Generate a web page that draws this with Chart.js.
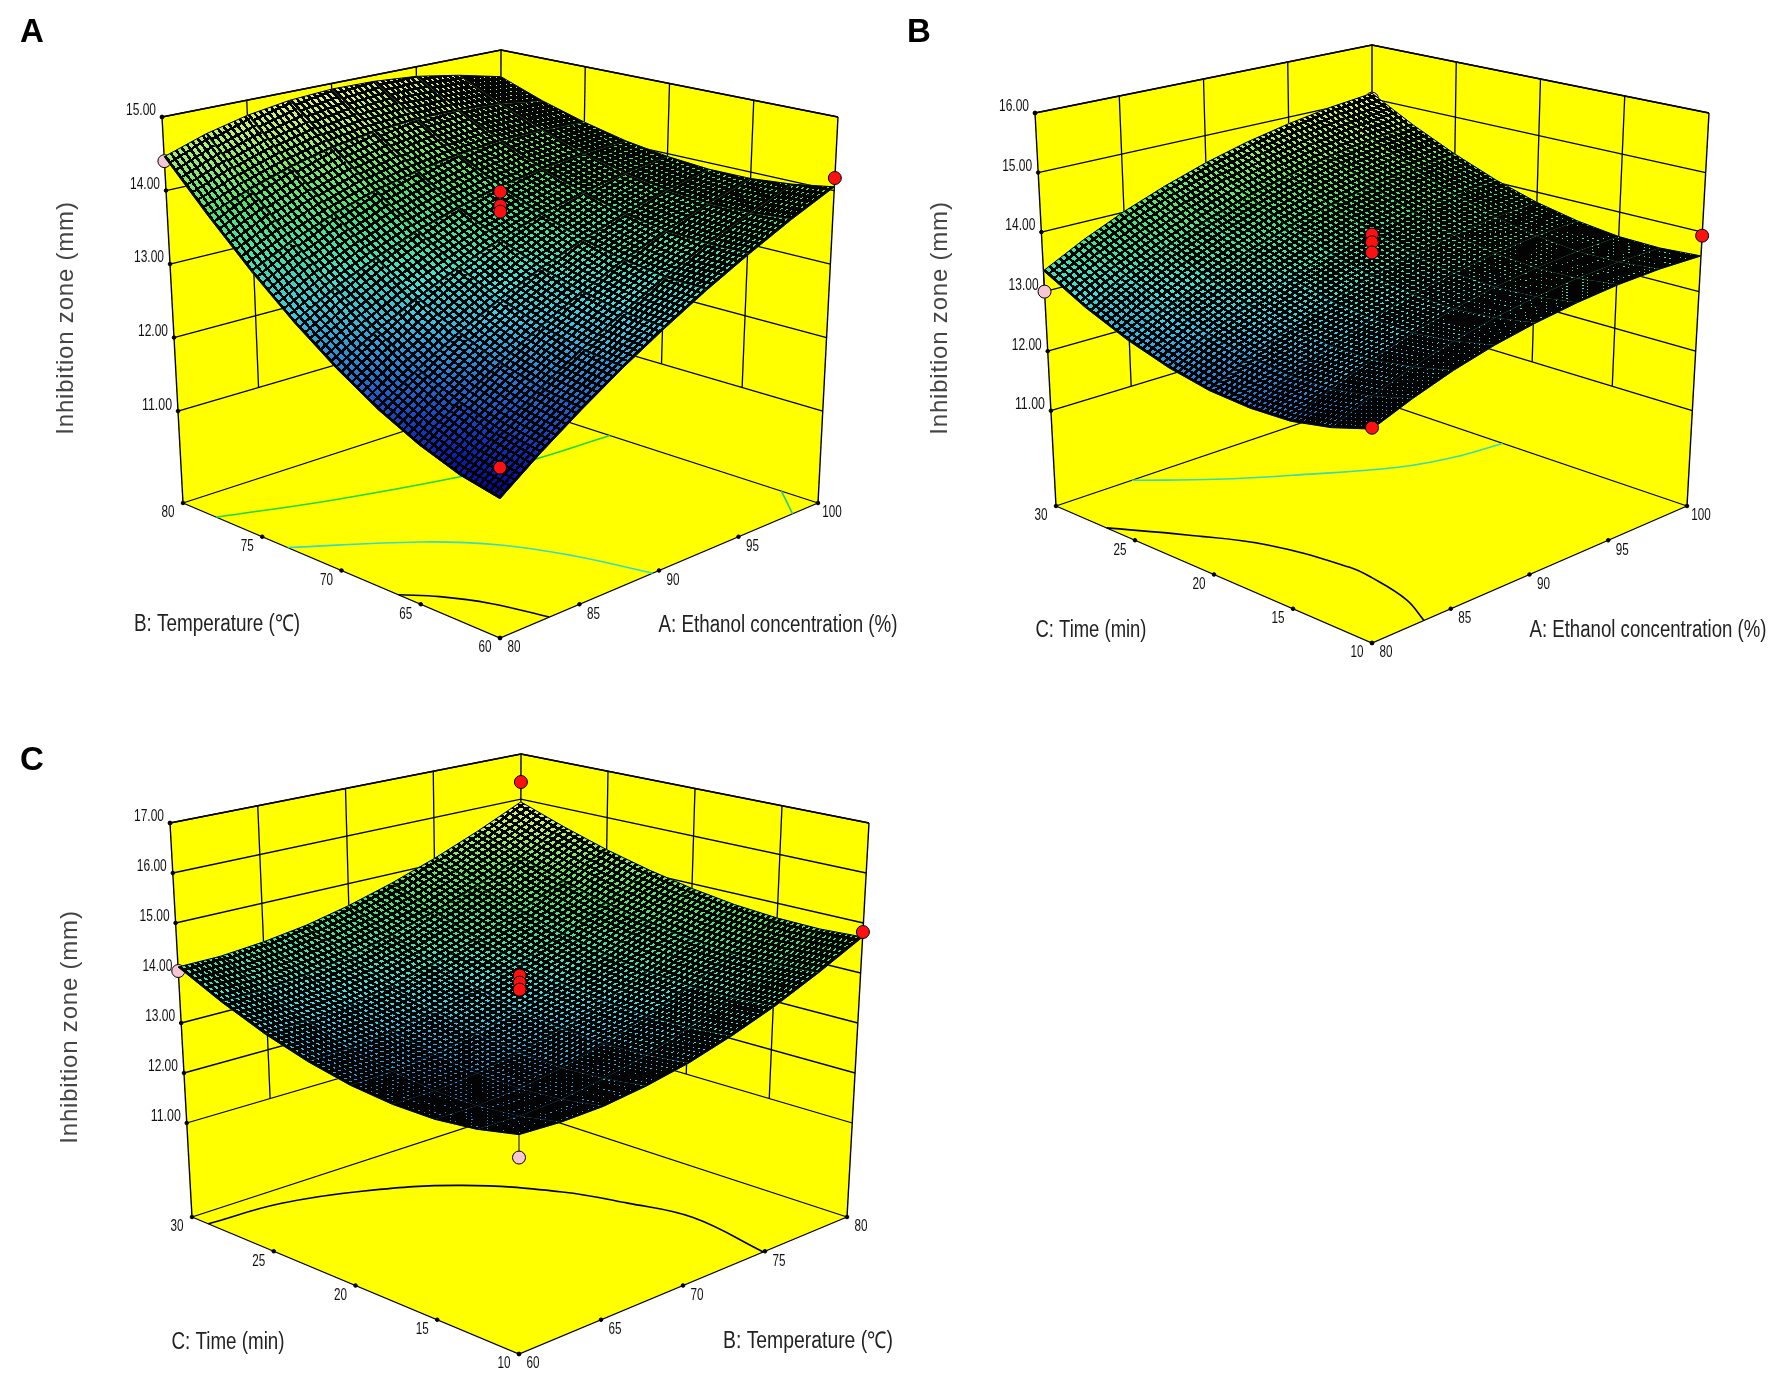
<!DOCTYPE html>
<html lang="en">
<head>
  <meta charset="UTF-8">
  <title>Inhibition zone response surfaces</title>
  <script src="https://cdn.jsdelivr.net/npm/chart.js"></script>
  <style>
    body { margin: 0; background: #fff; width: 1780px; height: 1383px; position: relative; overflow: hidden; }
    canvas { position: absolute; }
    .tag { position: absolute; font: bold 33px "Liberation Sans", sans-serif; color: #000; line-height: 1; }
  </style>
</head>
<body>
  <canvas id="chartA" width="900" height="700" style="left:0;top:0"></canvas>
  <canvas id="chartB" width="880" height="700" style="left:900px;top:0"></canvas>
  <canvas id="chartC" width="900" height="663" style="left:0;top:720px"></canvas>
  <div class="tag" style="left:20px;top:14px">A</div>
  <div class="tag" style="left:907px;top:14px">B</div>
  <div class="tag" style="left:20px;top:742px">C</div>

  <script>
    // axis ticks
    var ethanolTicks = [80, 85, 90, 95, 100];
    var tempTicks = [60, 65, 70, 75, 80];
    var timeTicks = [10, 15, 20, 25, 30];
    var zoneTicksA = [11, 12, 13, 14, 15];
    var zoneTicksB = [11, 12, 13, 14, 15, 16];
    var zoneTicksC = [11, 12, 13, 14, 15, 16, 17];

    // surface readings, inhibition zone (mm). one row per step of the axis
    // running to the left, one column per step of the axis running to the right
    var zoneA = [
      [11.45, 11.83, 12.19, 12.54, 12.87, 13.19, 13.49, 13.78, 14.05],
      [11.56, 11.93, 12.28, 12.60, 12.91, 13.20, 13.48, 13.73, 13.96],
      [11.75, 12.10, 12.43, 12.74, 13.02, 13.28, 13.51, 13.72, 13.91],
      [12.01, 12.34, 12.65, 12.93, 13.18, 13.40, 13.60, 13.77, 13.91],
      [12.35, 12.66, 12.94, 13.19, 13.41, 13.60, 13.75, 13.87, 13.96],
      [12.76, 13.05, 13.30, 13.52, 13.69, 13.84, 13.94, 14.01, 14.05],
      [13.25, 13.51, 13.73, 13.91, 14.04, 14.14, 14.20, 14.21, 14.19],
      [13.82, 14.04, 14.22, 14.36, 14.45, 14.50, 14.50, 14.46, 14.37],
      [14.46, 14.65, 14.79, 14.88, 14.92, 14.91, 14.86, 14.75, 14.60]
    ];
    var zoneB = [
      [12.58, 12.83, 13.05, 13.23, 13.37, 13.48, 13.56, 13.60, 13.60],
      [12.39, 12.66, 12.90, 13.10, 13.26, 13.39, 13.48, 13.54, 13.56],
      [12.27, 12.56, 12.81, 13.03, 13.21, 13.36, 13.47, 13.54, 13.58],
      [12.25, 12.55, 12.82, 13.05, 13.25, 13.40, 13.53, 13.62, 13.67],
      [12.30, 12.62, 12.89, 13.14, 13.35, 13.52, 13.65, 13.76, 13.82],
      [12.44, 12.77, 13.05, 13.31, 13.53, 13.71, 13.85, 13.97, 14.04],
      [12.66, 12.99, 13.29, 13.55, 13.78, 13.97, 14.13, 14.25, 14.33],
      [12.96, 13.30, 13.60, 13.87, 14.11, 14.30, 14.46, 14.59, 14.68],
      [13.35, 13.70, 14.01, 14.28, 14.52, 14.72, 14.88, 15.01, 15.10]
    ];
    var zoneC = [
      [13.04, 13.01, 13.04, 13.15, 13.32, 13.57, 13.88, 14.27, 14.72],
      [12.88, 12.87, 12.92, 13.05, 13.23, 13.50, 13.82, 14.22, 14.68],
      [12.80, 12.80, 12.87, 13.00, 13.21, 13.48, 13.82, 14.22, 14.70],
      [12.81, 12.82, 12.90, 13.05, 13.26, 13.54, 13.88, 14.29, 14.77],
      [12.90, 12.92, 13.01, 13.16, 13.38, 13.66, 14.01, 14.42, 14.90],
      [13.08, 13.10, 13.19, 13.35, 13.56, 13.85, 14.19, 14.60, 15.08],
      [13.34, 13.36, 13.45, 13.60, 13.82, 14.10, 14.44, 14.84, 15.31],
      [13.69, 13.71, 13.79, 13.94, 14.15, 14.42, 14.75, 15.14, 15.60],
      [14.12, 14.13, 14.21, 14.34, 14.54, 14.80, 15.12, 15.50, 15.94]
    ];

    // design points [right axis, left axis, zone]
    var aboveA = [[100, 60, 14.17], [90, 70, 14.07], [90, 70, 13.88], [90, 70, 13.80], [80, 60, 11.83]];
    var belowA = [[80, 80, 14.40]];
    var aboveB = [[100, 10, 13.94], [90, 20, 14.05], [90, 20, 13.92], [90, 20, 13.75], [80, 10, 12.60]];
    var belowB = [[80, 30, 13.00], [100, 30, 15.00]];
    var aboveC = [[80, 30, 16.38], [80, 10, 14.82], [70, 20, 14.07], [70, 20, 13.93], [70, 20, 13.79]];
    var belowC = [[60, 30, 14.04], [60, 10, 12.63]];

    // contour lines printed on the floor [right axis, left axis]
    var floorA1 = [[80, 77.9], [85.5, 76], [91.6, 74.2], [95.4, 73.4], [100, 73.1]];
    var floorA2 = [[80, 73.4], [84.9, 69.9], [87.2, 67.2], [88.6, 64], [89.6, 60]];
    var floorA3 = [[80, 66.4], [81.2, 65], [82.3, 62.9], [83.1, 60]];
    var floorA4 = [[100, 62.3], [98.4, 60]];
    var floorB1 = [[84.8, 30], [87.8, 27.6], [90.9, 25.5], [94.8, 23], [97.3, 22.1], [100, 21.7]];
    var floorB2 = [[80, 26.8], [82.2, 23.9], [84.1, 20.7], [85, 16.4], [84.9, 14.9], [84.3, 12.1], [83.3, 10]];
    var floorC1 = [[60, 29], [64.1, 28.7], [67.9, 27.4], [71.5, 25], [74, 21.4], [75, 18.4], [75.7, 15.1], [74.9, 10]];

    var FONT_TICK = '16px "Liberation Sans", sans-serif';
    var FONT_AXIS = '23px "Liberation Sans", sans-serif';
    var FONT_ZONE = '24px "Liberation Sans", sans-serif';
    var YELLOW = '#ffff00';
    var MESH_STEPS = 8;

    var panels = [
      {
        id: 'chartA', left: 0, top: 0, width: 900, height: 700,
        F: [500, 638], R: [818, 503], L: [183, 503], K: [500, 400],
        FT: [500, 208], RT: [838, 117], LT: [162, 117], KT: [501, 50],
        uTicks: ethanolTicks, vTicks: tempTicks, zTicks: zoneTicksA, zFloor: 9.75, zTop: 15,
        zone: zoneA, range: [11.45, 14.95], above: aboveA, below: belowA,
        contours: [[floorA1, '#1fd83a'], [floorA2, '#35dcc0'], [floorA3, '#000'], [floorA4, '#25cc90']],
        uTitle: ['A: Ethanol concentration (%)', 778, 626, 239], vTitle: ['B: Temperature (℃)', 217, 625, 166],
        zTitle: [66, 318]
      },
      {
        id: 'chartB', left: 900, top: 0, width: 880, height: 700,
        F: [1372, 643], R: [1687, 506], L: [1056, 506], K: [1372, 399],
        FT: [1372, 199], RT: [1709, 113], LT: [1035, 113], KT: [1372, 45],
        uTicks: ethanolTicks, vTicks: timeTicks, zTicks: zoneTicksB, zFloor: 9.4, zTop: 16,
        zone: zoneB, range: [11.4, 15.2], above: aboveB, below: belowB,
        contours: [[floorB1, '#35dcb0'], [floorB2, '#000']],
        uTitle: ['A: Ethanol concentration (%)', 1648, 631, 237], vTitle: ['C: Time (min)', 1091, 631, 111],
        zTitle: [940, 318]
      },
      {
        id: 'chartC', left: 0, top: 720, width: 900, height: 663,
        F: [519, 1354], R: [847, 1217], L: [192, 1217], K: [520, 1110],
        FT: [519, 913], RT: [869, 823], LT: [170, 823], KT: [521, 754],
        uTicks: tempTicks, vTicks: timeTicks, zTicks: zoneTicksC, zFloor: 9.12, zTop: 17,
        zone: zoneC, range: [11.6, 16], above: aboveC, below: belowC,
        contours: [[floorC1, '#000']],
        uTitle: ['B: Temperature (℃)', 808, 1342, 170], vTitle: ['C: Time (min)', 228, 1343, 113],
        zTitle: [70, 1027]
      }
    ];

    // box corners -> screen, trilinear
    function project(p, u, v, w) {
      var out = {};
      [0, 1].forEach(function (i) {
        var floor = (1 - u) * (1 - v) * p.F[i] + u * (1 - v) * p.R[i] + (1 - u) * v * p.L[i] + u * v * p.K[i];
        var top = (1 - u) * (1 - v) * p.FT[i] + u * (1 - v) * p.RT[i] + (1 - u) * v * p.LT[i] + u * v * p.KT[i];
        out[i ? 'y' : 'x'] = floor + (top - floor) * w;
      });
      return out;
    }

    function frac(ticks, val) {
      return (val - ticks[0]) / (ticks[ticks.length - 1] - ticks[0]);
    }

    function toScreen(p, a, b, z) {
      return project(p, frac(p.uTicks, a), frac(p.vTicks, b), (z - p.zFloor) / (p.zTop - p.zFloor));
    }

    var colorStops = [
      [0, 0, 0, 170], [0.2, 30, 90, 210], [0.42, 64, 224, 235], [0.72, 70, 225, 90], [1, 245, 245, 130]
    ];

    function zoneColor(p, z) {
      var t = Math.max(0, Math.min(1, (z - p.range[0]) / (p.range[1] - p.range[0])));
      for (var i = 1; i < colorStops.length; i++) {
        if (t <= colorStops[i][0]) {
          var a = colorStops[i - 1], b = colorStops[i];
          var f = (t - a[0]) / (b[0] - a[0]);
          return 'rgb(' + [1, 2, 3].map(function (c) { return Math.round(a[c] + (b[c] - a[c]) * f); }).join(',') + ')';
        }
      }
      return 'rgb(245,245,130)';
    }

    // one repeat of the wire mesh; line thickness is a share of the repeat
    var tiles = {};
    function meshTile(fu, fv) {
      var size = 32;
      var tu = Math.round(fu * size), tv = Math.round(fv * size);
      var key = tu + '_' + tv;
      if (!tiles[key]) {
        var c = document.createElement('canvas');
        c.width = size; c.height = size;
        var g = c.getContext('2d');
        g.fillStyle = '#030303';
        g.fillRect(0, 0, tu, size);
        g.fillRect(0, 0, size, tv);
        tiles[key] = c;
      }
      return tiles[key];
    }

    // tighter mesh reads darker, as it does when the surface turns edge-on
    function meshShare(gap) {
      return Math.min(0.82, Math.pow(3.0 / gap, 1.2));
    }

    function buildChart(p) {
      var canvas = document.getElementById(p.id);
      var ctx = canvas.getContext('2d');
      var datasets = [];

      function add(points, opts) {
        var d = Object.assign({ data: points, showLine: true, pointRadius: 0, borderWidth: 0, tension: 0, clip: false }, opts);
        datasets.push(d);
      }
      function polygon(points, fill, border, bw) {
        add(points.concat([points[0]]), { fill: 'shape', backgroundColor: fill, borderColor: border || 'rgba(0,0,0,0)', borderWidth: bw || 0 });
      }
      function line(points, color, width, tension) {
        add(points, { fill: false, borderColor: color, borderWidth: width, tension: tension || 0 });
      }
      function dots(points, fill, radius) {
        add(points, { showLine: false, fill: false, pointRadius: radius, pointBackgroundColor: fill, pointBorderColor: '#000', pointBorderWidth: 1, pointStyle: 'circle' });
      }

      var uLo = p.uTicks[0], uHi = p.uTicks[p.uTicks.length - 1];
      var vLo = p.vTicks[0], vHi = p.vTicks[p.vTicks.length - 1];
      var zLo = p.zFloor, zHi = p.zTop;
      var zGrid = p.zTicks[0];
      function pt(a, b, z) { return toScreen(p, a, b, z); }

      // walls and floor
      polygon([pt(uLo, vLo, zLo), pt(uHi, vLo, zLo), pt(uHi, vHi, zLo), pt(uLo, vHi, zLo)], YELLOW);
      polygon([pt(uLo, vHi, zLo), pt(uHi, vHi, zLo), pt(uHi, vHi, zHi), pt(uLo, vHi, zHi)], YELLOW);
      polygon([pt(uHi, vLo, zLo), pt(uHi, vHi, zLo), pt(uHi, vHi, zHi), pt(uHi, vLo, zHi)], YELLOW);

      // wall grid: the inner verticals stop at the lowest tick
      p.zTicks.concat([zHi, zLo]).forEach(function (z) {
        line([pt(uLo, vHi, z), pt(uHi, vHi, z), pt(uHi, vLo, z)], '#000', 1.3);
      });
      p.uTicks.slice(1, -1).forEach(function (a) { line([pt(a, vHi, zGrid), pt(a, vHi, zHi)], '#000', 1.3); });
      p.vTicks.slice(1, -1).forEach(function (b) { line([pt(uHi, b, zGrid), pt(uHi, b, zHi)], '#000', 1.3); });
      line([pt(uLo, vHi, zLo), pt(uLo, vHi, zHi)], '#000', 1.4);
      line([pt(uHi, vHi, zLo), pt(uHi, vHi, zHi)], '#000', 1.4);
      line([pt(uHi, vLo, zLo), pt(uHi, vLo, zHi)], '#000', 1.4);
      line([pt(uLo, vHi, zLo), pt(uLo, vLo, zLo), pt(uHi, vLo, zLo)], '#000', 1.3);

      // floor contours
      p.contours.forEach(function (c) {
        line(c[0].map(function (q) { return pt(q[0], q[1], zLo); }), c[1], 1.6, 0.4);
      });

      // tick marks
      var tickPts = p.zTicks.map(function (z) { return pt(uLo, vHi, z); }).concat([pt(uLo, vHi, zHi)]);
      p.uTicks.forEach(function (a) { tickPts.push(pt(a, vLo, zLo)); });
      p.vTicks.forEach(function (b) { tickPts.push(pt(uLo, b, zLo)); });
      dots(tickPts, '#000', 1.8);

      function stemTo(q) {
        var j = Math.round(frac(p.uTicks, q[0]) * 8), k = Math.round(frac(p.vTicks, q[1]) * 8);
        line([pt(q[0], q[1], q[2]), pt(q[0], q[1], p.zone[k][j])], '#000', 1);
      }

      // points under the surface go in before it
      p.below.forEach(stemTo);
      dots(p.below.map(function (q) { return pt(q[0], q[1], q[2]); }), '#f6c6d4', 6.5);

      // surface, far cells first: all colour, then all wire over it
      var rows = p.zone.length, cols = p.zone[0].length;
      function node(j, k) {
        return project(p, j / (cols - 1), k / (rows - 1), (p.zone[k][j] - zLo) / (zHi - zLo));
      }
      var wire = [];
      for (var k = rows - 2; k >= 0; k--) {
        for (var j = cols - 2; j >= 0; j--) {
          var corners = [[j, k], [j + 1, k], [j + 1, k + 1], [j, k + 1]];
          var pts = corners.map(function (c) { return node(c[0], c[1]); });
          var zs = corners.map(function (c) { return p.zone[c[1]][c[0]]; });
          var iLow = zs.indexOf(Math.min.apply(null, zs));
          var iHigh = zs.indexOf(Math.max.apply(null, zs));
          var grad = ctx.createLinearGradient(pts[iLow].x - p.left, pts[iLow].y - p.top, pts[iHigh].x - p.left, pts[iHigh].y - p.top);
          grad.addColorStop(0, zoneColor(p, zs[iLow]));
          grad.addColorStop(1, zoneColor(p, zs[iHigh]));
          var mean = (zs[0] + zs[1] + zs[2] + zs[3]) / 4;
          polygon(pts, grad, zoneColor(p, mean), 0.8);

          var eu = { x: (pts[1].x - pts[0].x) / MESH_STEPS, y: (pts[1].y - pts[0].y) / MESH_STEPS };
          var ev = { x: (pts[3].x - pts[0].x) / MESH_STEPS, y: (pts[3].y - pts[0].y) / MESH_STEPS };
          var cross = Math.abs(eu.x * ev.y - eu.y * ev.x) + 0.01;
          var fu = meshShare(cross / Math.hypot(ev.x, ev.y));
          var fv = meshShare(cross / Math.hypot(eu.x, eu.y));
          var pat = ctx.createPattern(meshTile(fu, fv), 'repeat');
          pat.setTransform(new DOMMatrix([eu.x / 32, eu.y / 32, ev.x / 32, ev.y / 32, pts[0].x - p.left, pts[0].y - p.top]));
          wire.push([pts, pat]);
        }
      }
      wire.forEach(function (w) { polygon(w[0], w[1]); });

      // surface outline
      var rim = [];
      for (var a = 0; a < cols; a++) rim.push(node(a, 0));
      for (var b = 1; b < rows; b++) rim.push(node(cols - 1, b));
      for (a = cols - 2; a >= 0; a--) rim.push(node(a, rows - 1));
      for (b = rows - 2; b >= 0; b--) rim.push(node(0, b));
      line(rim, '#000', 1);

      // points above the surface
      dots(p.above.map(function (q) { return pt(q[0], q[1], q[2]); }), '#ff1010', 6.5);

      // first dataset in the list is painted first
      datasets.forEach(function (d, i) { d.order = datasets.length - i; });

      var labelPlugin = {
        id: 'boxLabels',
        beforeDraw: function (chart) {
          // crisp wire holes, no blur when the mesh repeat is sampled down
          chart.ctx.imageSmoothingEnabled = false;
        },
        afterDraw: function (chart) {
          var c = chart.ctx, sx = chart.scales.x, sy = chart.scales.y;
          function text(str, q, dx, dy, align, font, color, maxWidth) {
            c.font = font;
            c.textAlign = align;
            c.textBaseline = 'middle';
            c.fillStyle = color;
            c.fillText(str, sx.getPixelForValue(q.x) + dx, sy.getPixelForValue(q.y) + dy, maxWidth);
          }
          c.save();
          p.zTicks.forEach(function (z) { text(z.toFixed(2), pt(uLo, vHi, z), -6, -6, 'right', FONT_TICK, '#111', 30); });
          p.uTicks.forEach(function (a) { text(String(a), pt(a, vLo, zLo), 14, 10, 'center', FONT_TICK, '#111', 6.5 * String(a).length); });
          p.vTicks.forEach(function (b) { text(String(b), pt(uLo, b, zLo), -15, 10, 'center', FONT_TICK, '#111', 6.5 * String(b).length); });
          text(p.uTitle[0], { x: p.uTitle[1], y: p.uTitle[2] }, 0, 0, 'center', FONT_AXIS, '#222', p.uTitle[3]);
          text(p.vTitle[0], { x: p.vTitle[1], y: p.vTitle[2] }, 0, 0, 'center', FONT_AXIS, '#222', p.vTitle[3]);
          // zone title reads upward
          c.translate(sx.getPixelForValue(p.zTitle[0]), sy.getPixelForValue(p.zTitle[1]));
          c.rotate(-Math.PI / 2);
          c.font = FONT_ZONE;
          c.letterSpacing = '0.8px';
          c.textAlign = 'center';
          c.textBaseline = 'middle';
          c.fillStyle = '#444';
          c.fillText('Inhibition zone (mm)', 0, 0);
          c.restore();
        }
      };

      return new Chart(ctx, {
        type: 'scatter',
        data: { datasets: datasets },
        plugins: [labelPlugin],
        options: {
          responsive: false,
          animation: false,
          devicePixelRatio: 1,
          events: [],
          layout: { padding: 0, autoPadding: false },
          plugins: { legend: { display: false }, tooltip: { enabled: false } },
          scales: {
            x: { type: 'linear', display: false, min: p.left, max: p.left + p.width },
            y: { type: 'linear', display: false, reverse: true, min: p.top, max: p.top + p.height }
          }
        }
      });
    }

    panels.forEach(buildChart);
  </script>
</body>
</html>
